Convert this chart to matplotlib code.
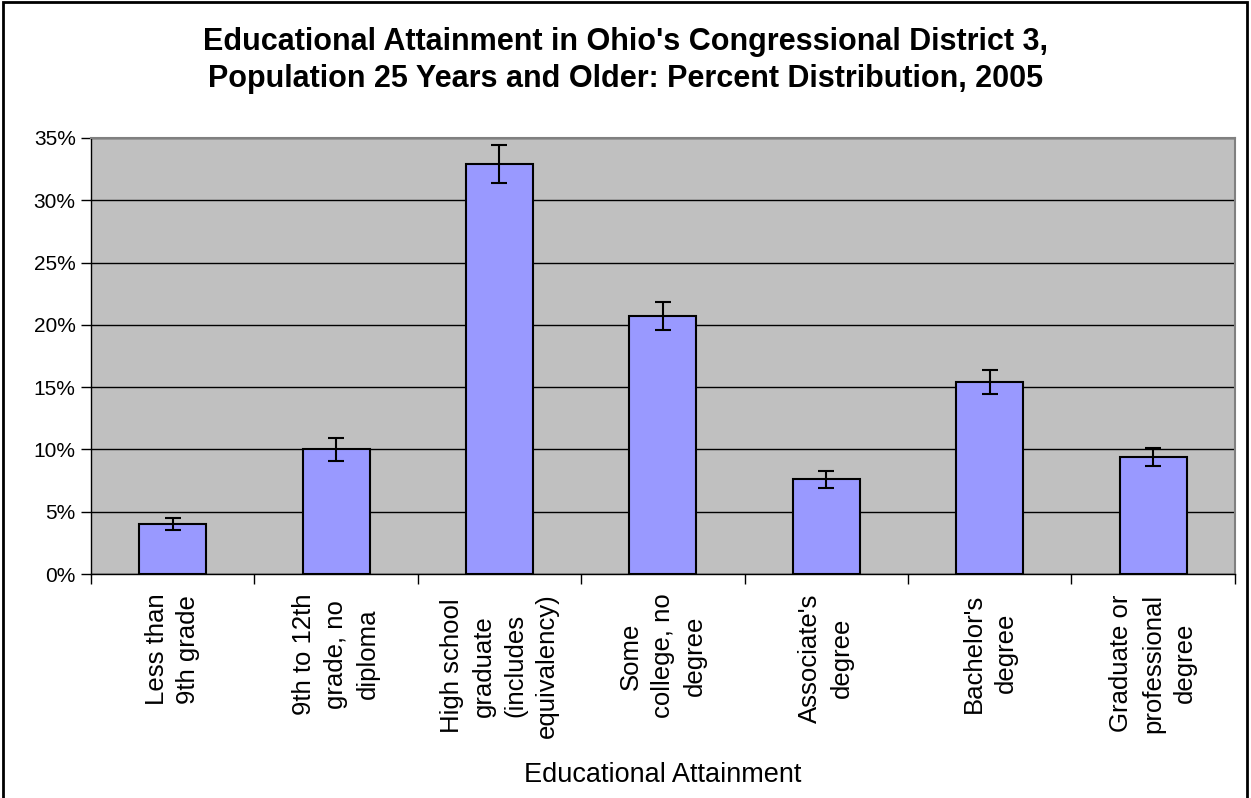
import numpy as np
import matplotlib
matplotlib.use("Agg")
import matplotlib.pyplot as plt
from matplotlib.ticker import FixedLocator, FuncFormatter
from matplotlib.transforms import blended_transform_factory

plt.rcParams["font.family"] = ["Liberation Sans", "DejaVu Sans"]

categories = [
    "Less than\n9th grade",
    "9th to 12th\ngrade, no\ndiploma",
    "High school\ngraduate\n(includes\nequivalency)",
    "Some\ncollege, no\ndegree",
    "Associate's\ndegree",
    "Bachelor's\ndegree",
    "Graduate or\nprofessional\ndegree",
]
percent = [4.0, 10.0, 32.9, 20.7, 7.6, 15.4, 9.4]
margin = [0.5, 0.9, 1.5, 1.1, 0.7, 0.95, 0.7]

title = ("Educational Attainment in Ohio's Congressional District 3,\n"
         "Population 25 Years and Older: Percent Distribution, 2005")
yticks = [0, 5, 10, 15, 20, 25, 30, 35]

fig = plt.figure(figsize=(12.51, 7.98), dpi=100)
ax = fig.add_axes([0.0727, 0.2807, 0.9143, 0.5464])
ax.set_facecolor("#C0C0C0")

x = np.arange(len(categories))
ax.bar(x, percent, width=0.41, color="#9999FF", edgecolor="black",
       linewidth=1.5, zorder=3)
ax.errorbar(x, percent, yerr=margin, fmt="none", ecolor="black",
            elinewidth=1.5, capsize=5.5, capthick=1.5, zorder=4)

ax.set_xlim(-0.5, len(categories) - 0.5)
ax.set_ylim(0, 35)
ax.set_yticks(yticks)
ax.yaxis.set_major_formatter(FuncFormatter(lambda v, p: f"{v:.0f}%"))
ax.grid(axis="y", color="black", linewidth=1, zorder=1)
ax.set_axisbelow(True)

ax.set_xticks(x)
ax.set_xticklabels(categories, rotation=90, fontsize=18.5, ha="center",
                   va="top", multialignment="center", linespacing=1.4)
ax.xaxis.set_minor_locator(FixedLocator(np.arange(-0.5, len(categories), 1)))
ax.tick_params(axis="x", which="major", length=0, pad=14)
ax.tick_params(axis="x", which="minor", length=7, width=1, color="black")
ax.tick_params(axis="y", length=7, width=1, labelsize=15, pad=4)

for side in ["top", "right"]:
    ax.spines[side].set_color("#808080")
    ax.spines[side].set_linewidth(1.5)
for side in ["left", "bottom"]:
    ax.spines[side].set_color("black")
    ax.spines[side].set_linewidth(1)

fig.text(0.5, 0.924, title, ha="center", va="center", fontsize=22,
         fontweight="bold", linespacing=1.3)
# x axis title centred on the plot area, near the bottom of the figure
xlab_tr = blended_transform_factory(ax.transAxes, fig.transFigure)
ax.text(0.5, 0.029, "Educational Attainment", ha="center", va="center",
        fontsize=19.5, transform=xlab_tr)

# outer chart border
fig.patches.append(plt.Rectangle((0.002, -0.01), 0.995, 1.007,
                                 transform=fig.transFigure, fill=False,
                                 edgecolor="black", linewidth=2))

fig.savefig("out.png", dpi=100)
